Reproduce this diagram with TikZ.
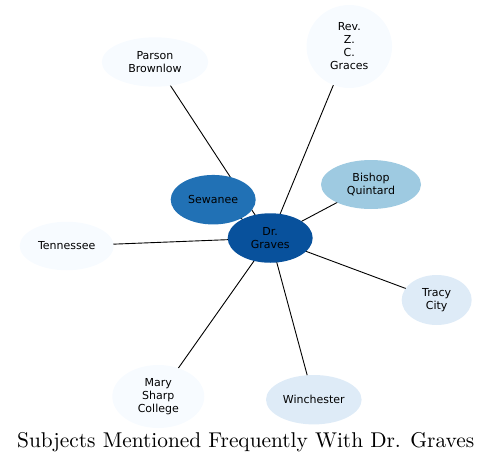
\documentclass[tikz,border=0pt]{standalone}
\usepackage{fontspec}
\usepackage{graphicx}
\setmainfont{Latin Modern Roman}
\newfontfamily\nodefont{DejaVu Sans}
\usetikzlibrary{shapes.geometric,backgrounds}
\definecolor{bA}{HTML}{F7FBFF}
\definecolor{bB}{HTML}{DEEBF7}
\definecolor{bD}{HTML}{9ECAE1}
\definecolor{bG}{HTML}{2171B5}
\definecolor{bH}{HTML}{08519C}
\tikzset{
  ent/.style={ellipse, draw=none, inner sep=0pt, align=center,
    font=\nodefont\fontsize{11}{13}\selectfont, text=black},
  link/.style={draw=black, line width=0.9pt}
}
\begin{document}
\begin{tikzpicture}[x=1pt,y=-1pt]
\useasboundingbox (0,0) rectangle (492,463);
\node[ent, fill=bH, minimum width=85pt, minimum height=49.5pt] (graves) at (270.2,238) {Dr.\\Graves};
\node[ent, fill=bG, minimum width=85pt, minimum height=49.5pt] (sewanee) at (213.2,199.7) {Sewanee};
\node[ent, fill=bD, minimum width=100pt, minimum height=49pt] (quintard) at (371,184.5) {Bishop\\Quintard};
\node[ent, fill=bA, minimum width=85.5pt, minimum height=83pt] (rev) at (349.3,46.5) {Rev.\\Z.\\C.\\Graces};
\node[ent, fill=bA, minimum width=106.5pt, minimum height=49.4pt] (parson) at (155,62) {Parson\\Brownlow};
\node[ent, fill=bA, minimum width=94pt, minimum height=48.5pt] (tenn) at (66.7,246) {Tennessee};
\node[ent, fill=bB, minimum width=70pt, minimum height=50pt] (tracy) at (436.7,300) {Tracy\\City};
\node[ent, fill=bB, minimum width=95.6pt, minimum height=49.4pt] (winch) at (313.8,399.7) {Winchester};
\node[ent, fill=bA, minimum width=92pt, minimum height=63pt] (mary) at (158.3,396.5) {Mary\\Sharp\\College};
\begin{scope}[on background layer]
  \foreach \t in {sewanee,quintard,rev,parson,tenn,tracy,winch,mary}
    \draw[link] (graves.center) -- (\t.center);
\end{scope}
\node[anchor=base, inner sep=0pt] (title) at (245.7,447.7) {\resizebox{457pt}{!}{\fontsize{10}{12}\selectfont Subjects Mentioned Frequently With Dr. Graves}};
\end{tikzpicture}
\end{document}
